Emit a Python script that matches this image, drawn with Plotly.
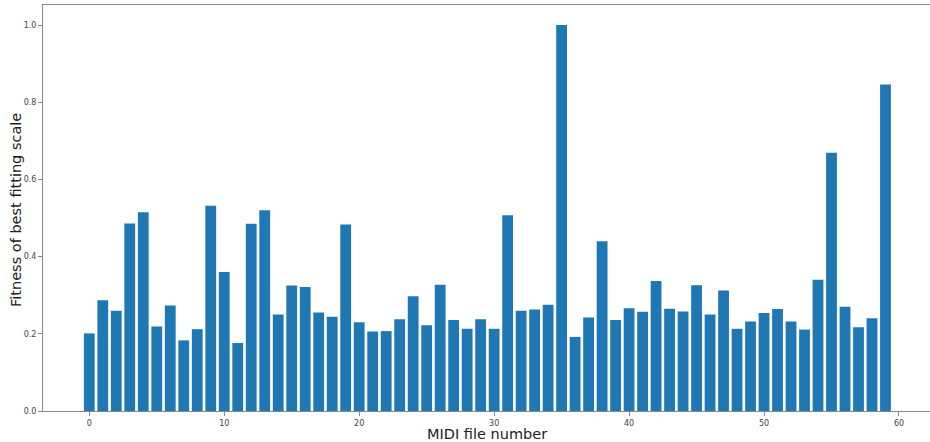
import plotly.graph_objects as go

files = list(range(60))
fitness = [0.201, 0.287, 0.260, 0.486, 0.515, 0.219, 0.273, 0.183, 0.212, 0.532,
           0.360, 0.176, 0.485, 0.520, 0.250, 0.325, 0.321, 0.255, 0.244, 0.483,
           0.230, 0.206, 0.207, 0.238, 0.297, 0.222, 0.327, 0.236, 0.213, 0.238,
           0.213, 0.507, 0.260, 0.263, 0.275, 1.000, 0.192, 0.242, 0.440, 0.236,
           0.266, 0.257, 0.337, 0.265, 0.258, 0.326, 0.250, 0.312, 0.213, 0.232,
           0.254, 0.264, 0.232, 0.211, 0.340, 0.669, 0.270, 0.217, 0.240, 0.846]
xticks = [0, 10, 20, 30, 40, 50, 60]
yticks = [0.0, 0.2, 0.4, 0.6, 0.8, 1.0]

fig = go.Figure(go.Bar(x=files, y=fitness, width=0.8, marker=dict(color="#1f77b4", line=dict(width=0))))

fig.update_layout(
    width=930, height=442,
    margin=dict(l=43, r=0, t=5, b=31),
    plot_bgcolor="white", paper_bgcolor="white",
    showlegend=False,
    font=dict(family="DejaVu Sans", color="#444"),
    xaxis=dict(range=[-3.43, -3.43 + 887 / 13.495], tickvals=xticks, ticktext=[str(v) for v in xticks],
               showline=True, linecolor="#888", linewidth=1, mirror=True,
               ticks="outside", ticklen=4, tickcolor="#888", tickfont=dict(size=8, color="#444"),
               showgrid=False, zeroline=False),
    yaxis=dict(range=[0, 406 / 386], tickvals=yticks, ticktext=[f"{v:.1f}" for v in yticks],
               showline=True, linecolor="#888", linewidth=1,
               ticks="outside", ticklen=4, tickcolor="#888", tickfont=dict(size=8, color="#444"),
               showgrid=False, zeroline=False),
    annotations=[
        dict(text="MIDI file number", xref="paper", yref="paper", x=0.5, y=0, yshift=-23,
             xanchor="center", yanchor="middle", showarrow=False,
             font=dict(size=14.5, color="#222")),
        dict(text="Fitness of best fitting scale", xref="paper", yref="paper", x=0, xshift=-27,
             y=(411 - 210) / 406, yanchor="middle", xanchor="center",
             textangle=-90, showarrow=False, font=dict(size=14.5, color="#222")),
    ],
)
fig.write_html("out.html", config={"displayModeBar": False},
               post_script="document.body.style.margin='0';document.body.style.overflow='hidden';")
